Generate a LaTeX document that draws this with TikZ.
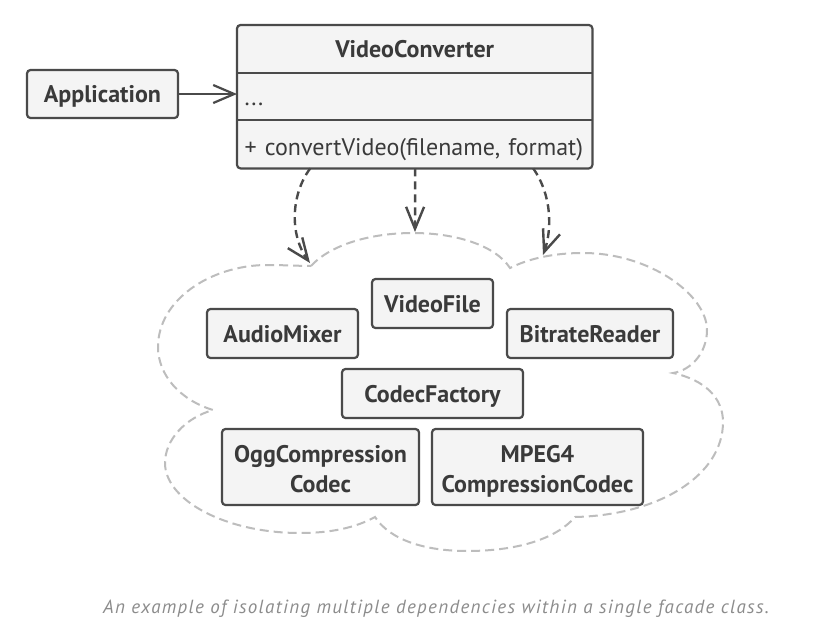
\documentclass[tikz,border=0pt]{standalone}
\usepackage{fontspec}
\setmainfont{PT Sans}
\usetikzlibrary{arrows.meta,calc}
\definecolor{boxline}{HTML}{4A4A4A}
\definecolor{boxfill}{HTML}{F4F4F4}
\definecolor{txt}{HTML}{3A3A3A}
\definecolor{cloudc}{HTML}{BDBDBD}
\definecolor{capc}{HTML}{8C8C8C}
\begin{document}
\begin{tikzpicture}[x=1pt,y=-1pt,
  cls/.style={draw=boxline, fill=boxfill, line width=2.2pt, rounded corners=3.5pt,
    inner sep=0pt, text=txt, font=\fontsize{24}{30}\selectfont\bfseries, align=center},
  oneline/.style={text height=33pt, text depth=16pt},
  part/.style={fill=boxfill, inner sep=0pt, text=txt, minimum width=355pt, anchor=north west},
  dep/.style={draw=boxline, line width=2.4pt, dash pattern=on 8pt off 5pt,
    -{Straight Barb[length=22pt,width=18pt,line width=2.4pt]}},
  assoc/.style={draw=boxline, line width=2.2pt,
    -{Straight Barb[length=21pt,width=18pt,line width=2.2pt]}},
  cloudline/.style={draw=cloudc, line width=2pt, dash pattern=on 9pt off 5pt}
]
\useasboundingbox[fill=white] (0,0) rectangle (825,635);

% cloud
\draw[cloudline] (311,266)
  .. controls (330,245) and (370,233) .. (413,233)
  .. controls (455,233) and (495,245) .. (510,268)
  .. controls (530,258) and (555,253) .. (583,253)
  .. controls (650,253) and (707,295) .. (707,330)
  .. controls (707,352) and (692,370) .. (673,373)
  .. controls (705,380) and (723,398) .. (723,422)
  .. controls (723,475) and (660,515) .. (575,517)
  .. controls (555,540) and (515,551) .. (467,551)
  .. controls (425,551) and (390,540) .. (375,517)
  .. controls (355,528) and (330,533) .. (300,533)
  .. controls (225,533) and (165,500) .. (165,463)
  .. controls (165,440) and (185,418) .. (213,410)
  .. controls (180,400) and (158,375) .. (158,347)
  .. controls (158,300) and (210,266) .. (265,265)
  .. controls (285,265) and (300,266) .. (311,266);

\coordinate (t1) at (310,263);
\coordinate (t2) at (415,232);
\coordinate (t3) at (543,255);

% VideoConverter
\node[part, text height=32pt, text depth=16pt, font=\fontsize{24}{30}\selectfont\bfseries] (vch) at (237,25) {VideoConverter};
\node[part, text height=32pt, text depth=15pt, font=\fontsize{24}{30}\selectfont, text width=340pt, inner xsep=7.5pt, align=left] (vca) at (237,73) {...};
\node[part, text height=35pt, text depth=13pt, font=\fontsize{24}{30}\selectfont, text width=340pt, inner xsep=7.5pt, align=left] (vcm) at (237,120) {+ convertVideo(filename, format)};
\draw[boxline, line width=2.2pt] (vca.north west) -- (vca.north east);
\draw[boxline, line width=2.2pt] (vcm.north west) -- (vcm.north east);
\draw[boxline, line width=2.2pt, rounded corners=3.5pt] (vch.north west) rectangle (vcm.south east);

% Application
\node[cls, oneline, text height=32pt, minimum width=151pt] (app) at (102.5,94) {Application};
\draw[assoc] (app.east) -- (app.east -| vca.west);

% components
\node[cls, oneline, minimum width=121pt] (vf) at (432.5,303.5) {VideoFile};
\node[cls, oneline, minimum width=151pt] (am) at (282.5,333.5) {AudioMixer};
\node[cls, oneline, minimum width=166pt] (br) at (590,333.5) {BitrateReader};
\node[cls, oneline, minimum width=181pt] (cf) at (432.5,393.5) {CodecFactory};
\node[cls, minimum width=197pt, minimum height=76pt] (ogg) at (320.5,467)
  {\rule{0pt}{26pt}OggCompression\\Codec\rule[-6pt]{0pt}{6pt}};
\node[cls, minimum width=211pt, minimum height=76pt] (mp4) at (537.5,467)
  {\rule{0pt}{26pt}MPEG4\\CompressionCodec\rule[-6pt]{0pt}{6pt}};

% dependencies
\draw[dep] ([xshift=-104.5pt]vcm.south) .. controls +(-20,27) and +(-20,-27) .. (t1);
\draw[dep] ([xshift=0.5pt]vcm.south) -- (t2);
\draw[dep] ([xshift=118.5pt]vcm.south) .. controls +(19,27) and +(9,-25) .. (t3);

% caption
\node[anchor=base west, inner sep=0pt, text=capc, font=\fontsize{19}{22}\selectfont\itshape\addfontfeatures{LetterSpace=7}] (cap) at (103,613)
  {An example of isolating multiple dependencies within a single facade class.};
\end{tikzpicture}
\end{document}
